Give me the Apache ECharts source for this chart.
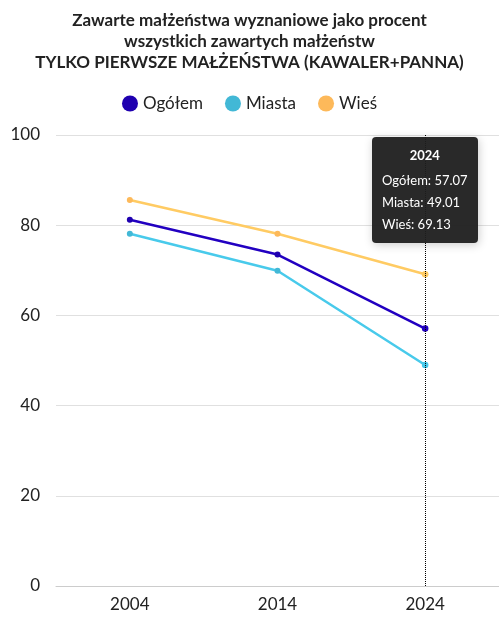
<!DOCTYPE html>
<html><head><meta charset="utf-8">
<script src="https://cdn.jsdelivr.net/npm/echarts@6/dist/echarts.min.js"></script>
<style>html,body{margin:0;padding:0;background:#fff;overflow:hidden}#c{width:499px;height:621px}</style>
</head><body><div id="c"></div>
<script>
const categories = ['2004','2014','2024'];
const ogolem = [81.2, 73.5, 57.07];
const miasta = [78.1, 69.9, 49.01];
const wies = [85.6, 78.1, 69.13];
const chart = echarts.init(document.getElementById('c'));
const ff = 'Lato';
chart.setOption({
  animation:false,
  textStyle:{fontFamily:ff},
  title:{text:'Zawarte małżeństwa wyznaniowe jako procent\nwszystkich zawartych małżeństw\nTYLKO PIERWSZE MAŁŻEŃSTWA (KAWALER+PANNA)',
    left:'center',top:5,textStyle:{fontFamily:ff,fontSize:17,fontWeight:'bold',color:'#222',lineHeight:21}},
  legend:{top:90,left:'center',itemGap:22,icon:'circle',itemWidth:16,itemHeight:16,textStyle:{fontFamily:ff,fontSize:17,color:'#222'}},
  tooltip:{trigger:'axis',alwaysShowContent:true,backgroundColor:'rgba(30,30,30,0.95)',borderWidth:0,padding:[8,10],
    textStyle:{color:'#fff',fontFamily:ff,fontSize:13},
    axisPointer:{type:'line',lineStyle:{color:'#000',type:'dotted',width:1}},
    position:function(p,params,dom,rect,size){return [p[0]-size.contentSize[0]/2, 137];},
    formatter:function(ps){let s='<div style="text-align:center;font-weight:bold;margin-bottom:4px">'+ps[0].name+'</div>';
      ps.forEach(p=>{s+='<div style="line-height:22px">'+p.seriesName+': '+p.value+'</div>';});return s;}},
  grid:{left:56,right:-9,top:135,bottom:35},
  xAxis:{type:'category',data:categories,axisTick:{show:false},axisLine:{lineStyle:{color:'#ccc'}},
    axisLabel:{fontSize:17,color:'#222',margin:10}},
  yAxis:{type:'value',min:0,max:100,interval:20,axisLabel:{fontSize:17,color:'#222',margin:16},
    splitLine:{lineStyle:{color:'#e0e0e0'}}},
  series:[
    {name:'Ogółem',type:'line',data:ogolem,color:'#1f00b0',symbol:'circle',symbolSize:6,lineStyle:{width:2.5}},
    {name:'Miasta',type:'line',data:miasta,color:'#42b8d6',symbol:'circle',symbolSize:6,lineStyle:{width:2.5}},
    {name:'Wieś',type:'line',data:wies,color:'#fdb95a',symbol:'circle',symbolSize:6,lineStyle:{width:2.5}}
  ]
});
chart.dispatchAction({type:'showTip',seriesIndex:0,dataIndex:2});
</script></body></html>
